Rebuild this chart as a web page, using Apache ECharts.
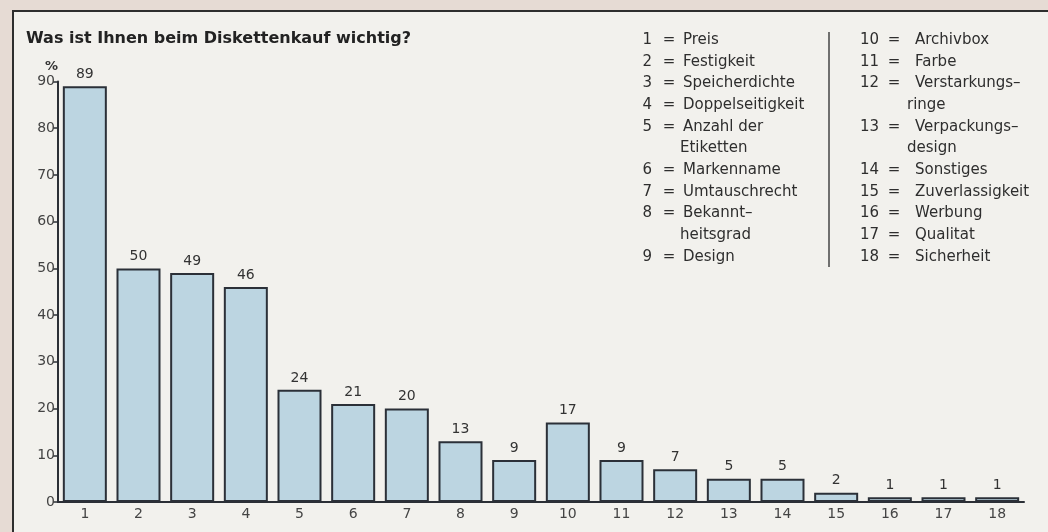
<!DOCTYPE html>
<html>
<head>
<meta charset="utf-8">
<script src="https://cdn.jsdelivr.net/npm/echarts@6/dist/echarts.min.js"></script>
<style>
  html, body { margin: 0; padding: 0; background: #e6dbd4; }
  #chart { width: 1048px; height: 532px; }
</style>
</head>
<body>
<div id="chart"></div>
<script>
// Werte aus der Grafik
const categories = ['1', '2', '3', '4', '5', '6', '7', '8', '9', '10', '11', '12', '13', '14', '15', '16', '17', '18']
const values = [89, 50, 49, 46, 24, 21, 20, 13, 9, 17, 9, 7, 5, 5, 2, 1, 1, 1]

// Legende: Nummer und Zeilen
const legendLeft = [
  ['1', ['Preis']],
  ['2', ['Festigkeit']],
  ['3', ['Speicherdichte']],
  ['4', ['Doppelseitigkeit']],
  ['5', ['Anzahl der', 'Etiketten']],
  ['6', ['Markenname']],
  ['7', ['Umtauschrecht']],
  ['8', ['Bekannt–', 'heitsgrad']],
  ['9', ['Design']]
]
const legendRight = [
  ['10', ['Archivbox']],
  ['11', ['Farbe']],
  ['12', ['Verstarkungs–', 'ringe']],
  ['13', ['Verpackungs–', 'design']],
  ['14', ['Sonstiges']],
  ['15', ['Zuverlassigkeit']],
  ['16', ['Werbung']],
  ['17', ['Qualitat']],
  ['18', ['Sicherheit']]
]

const font = 'DejaVu Sans'
const textColor = '#2e2e2e'

// Legendenspalte als Textelemente aufbauen
const buildColumn = (entries, numX, eqX, txtX, contX) => {
  const out = []
  let row = 0
  entries.forEach(([num, lines]) => {
    const y = 40 + row * 21.7
    out.push({ type: 'text', x: numX, y: y, style: { text: num, font: '15px ' + font, fill: textColor, textAlign: 'right', textVerticalAlign: 'middle' } })
    out.push({ type: 'text', x: eqX, y: y, style: { text: '=', font: '15px ' + font, fill: textColor, textAlign: 'center', textVerticalAlign: 'middle' } })
    lines.forEach((line, i) => {
      out.push({
        type: 'text',
        x: i === 0 ? txtX : contX,
        y: 40 + (row + i) * 21.7,
        style: { text: line, font: '15px ' + font, fill: textColor, textAlign: 'left', textVerticalAlign: 'middle' }
      })
    })
    row += lines.length
  })
  return out
}

const chart = echarts.init(document.getElementById('chart'))

const option = {
  backgroundColor: '#e6dbd4',
  animation: false,
  title: {
    text: 'Was ist Ihnen beim Diskettenkauf wichtig?',
    left: 26,
    top: 31,
    padding: 0,
    textStyle: { fontFamily: font, fontSize: 16, fontWeight: 'bold', color: '#222' }
  },
  grid: { left: 58, right: 24, top: 81.5, bottom: 30 },
  xAxis: {
    type: 'category',
    data: categories,
    axisLine: { lineStyle: { color: '#2b2f36', width: 2 } },
    axisTick: { alignWithLabel: true, length: 4, lineStyle: { color: '#2b2f36', width: 1.5 } },
    axisLabel: { fontFamily: font, fontSize: 14, color: '#444', margin: 5 }
  },
  yAxis: {
    type: 'value',
    min: 0,
    max: 90,
    interval: 10,
    name: '%',
    nameGap: 8,
    nameTextStyle: { fontFamily: font, fontSize: 13, fontWeight: 'bold', color: '#333', align: 'right' },
    splitLine: { show: false },
    axisLine: { show: true, lineStyle: { color: '#2b2f36', width: 2 } },
    axisTick: { show: true, length: 5, lineStyle: { color: '#2b2f36', width: 1.5 } },
    axisLabel: { fontFamily: font, fontSize: 14, color: '#444', margin: 3 }
  },
  series: [
    {
      type: 'bar',
      data: values,
      barCategoryGap: '18%',
      itemStyle: { color: '#bcd5e1', borderColor: '#2b3038', borderWidth: 2 },
      label: { show: true, position: 'top', distance: 5, fontFamily: font, fontSize: 14, color: '#333' }
    }
  ],
  graphic: [
    // Rahmen
    { type: 'rect', z: -10, shape: { x: 13, y: 11, width: 1060, height: 540 }, style: { fill: '#f2f1ed', stroke: '#2e2e2e', lineWidth: 2 } },
    // Trennlinie in der Legende
    { type: 'line', shape: { x1: 829, y1: 32, x2: 829, y2: 267 }, style: { stroke: '#444', lineWidth: 1.5 } },
    ...buildColumn(legendLeft, 652, 669, 683, 680),
    ...buildColumn(legendRight, 879, 894, 915, 907)
  ]
}

chart.setOption(option)
</script>
</body>
</html>
